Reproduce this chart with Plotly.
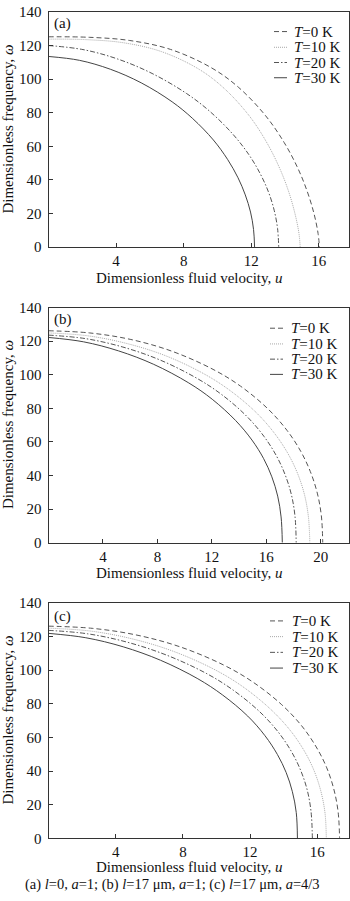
import plotly.graph_objects as go

W, H = 350, 901

# Legend labels (temperatures)
temp_labels = ["<i>T</i>=0 K", "<i>T</i>=10 K", "<i>T</i>=20 K", "<i>T</i>=30 K"]

# Panel (a): l=0, a=1
u_a_T0 = [0, 2.41, 4.81, 7.22, 9.62, 11.23, 12.83, 13.95, 14.76, 15.32, 15.72, 15.96, 16.04]
w_a_T0 = [125.2, 124.9, 123.0, 117.7, 106.9, 95.3, 78.5, 62.3, 47.0, 33.1, 19.9, 8.1, 0]
u_a_T10 = [0, 2.24, 4.47, 6.71, 8.94, 10.43, 11.92, 12.96, 13.71, 14.23, 14.60, 14.83, 14.9]
w_a_T10 = [123.8, 123.5, 121.6, 116.3, 105.7, 94.2, 77.7, 61.6, 46.4, 32.7, 19.6, 8.0, 0]
u_a_T20 = [0, 2.04, 4.09, 6.13, 8.18, 9.54, 10.90, 11.86, 12.54, 13.02, 13.36, 13.56, 13.63]
w_a_T20 = [120.0, 117.6, 112.0, 103.4, 91.4, 80.9, 67.4, 55.1, 43.6, 32.9, 22.0, 11.1, 0]
u_a_T30 = [0, 1.83, 3.66, 5.49, 7.32, 8.54, 9.76, 10.61, 11.22, 11.65, 11.96, 12.14, 12.2]
w_a_T30 = [113.5, 111.2, 105.9, 97.8, 86.5, 76.5, 63.8, 52.1, 41.3, 31.1, 20.9, 10.5, 0]

# Panel (b): l=17 um, a=1
u_b_T0 = [0, 3.02, 6.05, 9.07, 12.09, 14.11, 16.12, 17.53, 18.54, 19.24, 19.75, 20.05, 20.15]
w_b_T0 = [126.2, 124.9, 121.0, 114.0, 103.2, 93.2, 79.7, 66.8, 54.3, 42.3, 29.5, 15.9, 0]
u_b_T10 = [0, 2.88, 5.76, 8.64, 11.52, 13.44, 15.36, 16.70, 17.66, 18.34, 18.82, 19.10, 19.2]
w_b_T10 = [124.9, 123.2, 118.6, 111.2, 100.1, 90.0, 76.7, 64.1, 52.1, 40.4, 28.2, 15.2, 0]
u_b_T20 = [0, 2.73, 5.46, 8.19, 10.92, 12.74, 14.56, 15.83, 16.74, 17.38, 17.84, 18.11, 18.2]
w_b_T20 = [123.6, 121.5, 116.5, 108.8, 97.8, 88.1, 75.3, 63.3, 51.8, 40.6, 28.8, 15.9, 0]
u_b_T30 = [0, 2.58, 5.15, 7.73, 10.31, 12.03, 13.74, 14.95, 15.81, 16.41, 16.84, 17.09, 17.18]
w_b_T30 = [122.2, 119.6, 114.2, 106.2, 95.1, 85.4, 72.8, 61.1, 50.0, 39.2, 27.7, 15.3, 0]

# Panel (c): l=17 um, a=4/3
u_c_T0 = [0, 2.60, 5.20, 7.80, 10.40, 12.13, 13.86, 15.08, 15.94, 16.55, 16.98, 17.24, 17.33]
w_c_T0 = [126.2, 124.9, 121.0, 114.0, 103.2, 93.2, 79.7, 66.8, 54.3, 42.3, 29.5, 15.9, 0]
u_c_T10 = [0, 2.48, 4.96, 7.44, 9.92, 11.58, 13.23, 14.39, 15.22, 15.80, 16.21, 16.46, 16.54]
w_c_T10 = [125.0, 123.3, 118.7, 111.2, 100.2, 90.1, 76.7, 64.2, 52.1, 40.5, 28.2, 15.2, 0]
u_c_T20 = [0, 2.36, 4.71, 7.07, 9.43, 11.0, 12.57, 13.67, 14.45, 15.0, 15.40, 15.63, 15.71]
w_c_T20 = [123.7, 121.6, 116.6, 108.8, 97.9, 88.1, 75.3, 63.3, 51.8, 40.7, 28.8, 15.9, 0]
u_c_T30 = [0, 2.22, 4.45, 6.67, 8.89, 10.37, 11.86, 12.89, 13.63, 14.15, 14.52, 14.75, 14.82]
w_c_T30 = [121.9, 119.3, 113.9, 105.9, 94.9, 85.2, 72.7, 61.0, 49.8, 39.1, 27.7, 15.3, 0]

# Axis ticks
x_ticks_a = [4, 8, 12, 16]
x_ticks_b = [4, 8, 12, 16, 20]
x_ticks_c = [4, 8, 12, 16]
y_ticks = [0, 20, 40, 60, 80, 100, 120, 140]

panel_letters = ["(a)", "(b)", "(c)"]
x_title = "Dimensionless fluid velocity, <i>u</i>"
y_title = "Dimensionless frequency, <i>ω</i>"
caption = ("(a) <i>l</i>=0, <i>a</i>=1; (b) <i>l</i>=17 μm, <i>a</i>=1; "
           "(c) <i>l</i>=17 μm, <i>a</i>=4/3")

# Line styles per temperature
styles = [
    dict(color="#555555", width=1, dash="5px,3px"),
    dict(color="#a8a8a8", width=1, dash="1px,1px"),
    dict(color="#555555", width=1, dash="5px,2px,1.5px,2px"),
    dict(color="#444444", width=1, dash="solid"),
]

FONT = "Liberation Serif"

# Pixel geometry of the three panels (top, bottom) and x ranges
left_px, right_px = 48.5, 349.0
panels = [
    dict(top=4.0, bottom=243.5, xmax=17.79, ticks=x_ticks_a,
         data=[(u_a_T0, w_a_T0), (u_a_T10, w_a_T10), (u_a_T20, w_a_T20), (u_a_T30, w_a_T30)],
         leg_rows=[24.0, 40.0, 55.5, 71.0], leg_x=(274.0, 287.0), leg_tx=291.5,
         xtitle_y=275.0, label_y=16.0),
    dict(top=305.0, bottom=544.3, xmax=22.08, ticks=x_ticks_b,
         data=[(u_b_T0, w_b_T0), (u_b_T10, w_b_T10), (u_b_T20, w_b_T20), (u_b_T30, w_b_T30)],
         leg_rows=[326.0, 342.0, 357.5, 373.0], leg_x=(270.0, 283.0), leg_tx=288.5,
         xtitle_y=575.0, label_y=317.0),
    dict(top=605.7, bottom=845.3, xmax=17.89, ticks=x_ticks_c,
         data=[(u_c_T0, w_c_T0), (u_c_T10, w_c_T10), (u_c_T20, w_c_T20), (u_c_T30, w_c_T30)],
         leg_rows=[624.0, 640.0, 656.0, 672.0], leg_x=(270.0, 283.0), leg_tx=289.5,
         xtitle_y=874.5, label_y=619.0),
]


def px(x):
    return x / W


def py(y):
    return 1 - y / H


fig = go.Figure()
annotations = []
shapes = []

for i, p in enumerate(panels):
    n = "" if i == 0 else str(i + 1)
    xa, ya = "x" + n, "y" + n
    for j, (u, w) in enumerate(p["data"]):
        fig.add_trace(go.Scatter(
            x=u, y=w, mode="lines", name=temp_labels[j],
            line=dict(shape="spline", smoothing=1.0, **styles[j]),
            xaxis=xa, yaxis=ya, showlegend=False, hoverinfo="skip",
        ))

    axis_common = dict(
        showline=True, mirror=True, linecolor="#333333", linewidth=1,
        ticks="inside", ticklen=4, tickwidth=1, tickcolor="#333333",
        showgrid=False, zeroline=False,
        tickfont=dict(family=FONT, size=15, color="#111111"),
    )
    fig.layout["xaxis" + n] = dict(
        domain=[px(left_px), px(right_px)], range=[0, p["xmax"]],
        tickvals=p["ticks"], anchor=ya, ticklabelstandoff=0, **axis_common,
    )
    fig.layout["yaxis" + n] = dict(
        domain=[py(p["bottom"]), py(p["top"])], range=[0, 140],
        tickvals=y_ticks, anchor=xa, ticklabelstandoff=3, **axis_common,
    )

    # panel letter
    annotations.append(dict(
        text=panel_letters[i], x=px(52), y=py(p["label_y"]), xref="paper", yref="paper",
        xanchor="left", yanchor="middle", showarrow=False,
        font=dict(family=FONT, size=15, color="#111111"),
    ))
    # x-axis title
    annotations.append(dict(
        text=x_title, x=px(189.5), y=py(p["xtitle_y"]), xref="paper", yref="paper",
        xanchor="center", yanchor="middle", showarrow=False,
        font=dict(family=FONT, size=15, color="#111111"),
    ))
    # y-axis title
    annotations.append(dict(
        text=y_title, x=px(8), y=py((p["top"] + p["bottom"]) / 2), xref="paper", yref="paper",
        xanchor="center", yanchor="middle", textangle=-90, showarrow=False,
        font=dict(family=FONT, size=15, color="#111111"),
    ))
    # legend
    for j, ry in enumerate(p["leg_rows"]):
        st = styles[j]
        shapes.append(dict(
            type="line", xref="paper", yref="paper",
            x0=px(p["leg_x"][0]), x1=px(p["leg_x"][1]), y0=py(ry), y1=py(ry),
            line=dict(color=st["color"], width=st["width"], dash=st["dash"]),
        ))
        annotations.append(dict(
            text=temp_labels[j], x=px(p["leg_tx"]), y=py(ry), xref="paper", yref="paper",
            xanchor="left", yanchor="middle", showarrow=False,
            font=dict(family=FONT, size=15, color="#111111"),
        ))

annotations.append(dict(
    text=caption, x=px(172.5), y=py(892.5), xref="paper", yref="paper",
    xanchor="center", yanchor="middle", showarrow=False,
    font=dict(family=FONT, size=14.5, color="#111111"),
))

fig.update_layout(
    width=W, height=H, margin=dict(l=0, r=0, t=0, b=0),
    paper_bgcolor="white", plot_bgcolor="white",
    annotations=annotations, shapes=shapes, showlegend=False,
)

fig.write_html("out.html")
